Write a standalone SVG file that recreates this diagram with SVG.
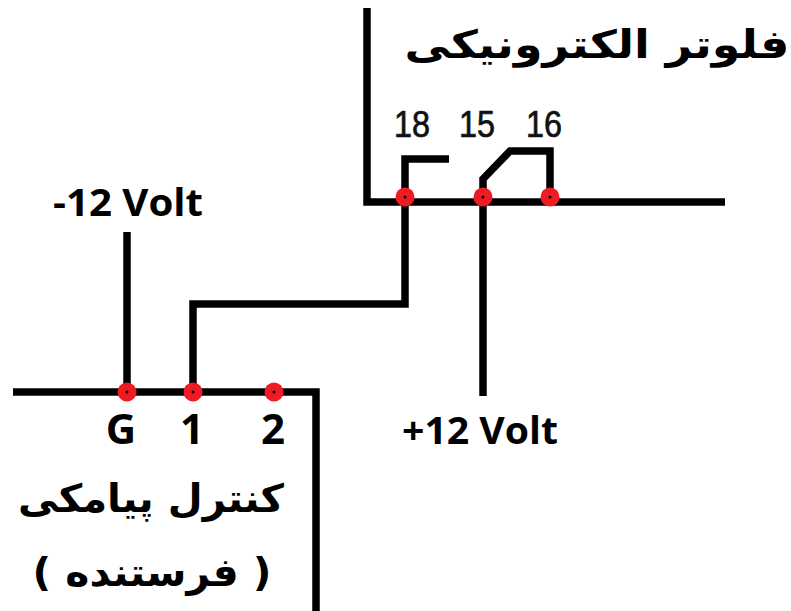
<svg xmlns="http://www.w3.org/2000/svg" width="791" height="611" viewBox="0 0 791 611">
<style>
.w{fill:none;stroke:#000;stroke-width:7.5;stroke-linejoin:miter}
.d{fill:#ed1c24}
.c{fill:#000}
text{font-family:"DejaVu Sans","Liberation Sans",sans-serif;font-weight:bold;fill:#000}
.n{font-family:"Liberation Sans",sans-serif;font-weight:normal;font-size:37px;fill:#111;stroke:#111;stroke-width:.7}
.a{font-size:39px}
.l{font-family:"Open Sans","DejaVu Sans",sans-serif;font-size:37px}
.p{font-family:"Open Sans","DejaVu Sans",sans-serif;font-size:42px;font-weight:700}
</style>
<rect width="791" height="611" fill="#fff"/>
<g id="connectors">
<path class="w" d="M367 8V202H725"/>
<path class="w" d="M405 197V159H449"/>
<path class="w" d="M483 197V179L510 151H550V197"/>
<path class="w" d="M13 392H316V611"/>
<path class="w" d="M127 232V392"/>
<path class="w" d="M193 392V304H405V202"/>
<path class="w" d="M483 202V396"/>
</g>
<g id="pin-18"><circle class="d" cx="405" cy="197" r="9.5"/><circle class="c" cx="405" cy="197" r="1.5"/><text class="n" x="412" y="137" text-anchor="middle" textLength="36" lengthAdjust="spacingAndGlyphs">18</text></g>
<g id="pin-15"><circle class="d" cx="483" cy="197" r="9.5"/><circle class="c" cx="483" cy="197" r="1.5"/><text class="n" x="477" y="137" text-anchor="middle" textLength="36" lengthAdjust="spacingAndGlyphs">15</text></g>
<g id="pin-16"><circle class="d" cx="550" cy="197" r="9.5"/><circle class="c" cx="550" cy="197" r="1.5"/><text class="n" x="544" y="137" text-anchor="middle" textLength="36" lengthAdjust="spacingAndGlyphs">16</text></g>
<g id="pin-G"><circle class="d" cx="127" cy="392" r="9.5"/><circle class="c" cx="127" cy="392" r="1.5"/><text class="p" x="121" y="444" text-anchor="middle">G</text></g>
<g id="pin-1"><circle class="d" cx="193" cy="392" r="9.5"/><circle class="c" cx="193" cy="392" r="1.5"/><text class="p" x="192" y="444" text-anchor="middle">1</text></g>
<g id="pin-2"><circle class="d" cx="274" cy="392" r="9.5"/><circle class="c" cx="274" cy="392" r="1.5"/><text class="p" x="273" y="444" text-anchor="middle">2</text></g>
<g id="label-minus"><text class="l" x="128" y="216" text-anchor="middle" textLength="150" lengthAdjust="spacingAndGlyphs">-12 Volt</text></g>
<g id="label-plus"><text class="l" x="480" y="444" text-anchor="middle" textLength="156" lengthAdjust="spacingAndGlyphs">+12 Volt</text></g>
<g id="label-floater"><text class="a" x="597" y="58" text-anchor="middle" direction="rtl" xml:lang="fa" textLength="385" lengthAdjust="spacingAndGlyphs">فلوتر الکترونیکی</text></g>
<g id="label-control"><text class="a" x="151" y="512" text-anchor="middle" direction="rtl" xml:lang="fa" textLength="266" lengthAdjust="spacingAndGlyphs">کنترل پیامکی</text></g>
<g id="label-sender"><text class="a" x="152" y="586" text-anchor="middle" direction="rtl" xml:lang="fa" textLength="239" lengthAdjust="spacingAndGlyphs">( فرستنده )</text></g>
</svg>
